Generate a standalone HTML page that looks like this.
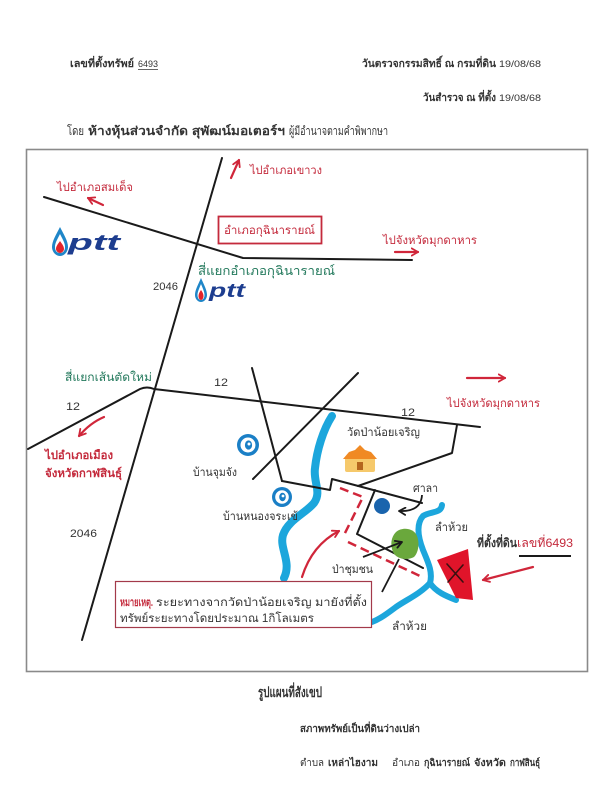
<!DOCTYPE html>
<html><head><meta charset="utf-8">
<style>
html,body{margin:0;padding:0;background:#fff;}
svg{display:block;}
text{font-family:"Liberation Sans","DejaVu Sans",sans-serif;}
</style></head><body>
<svg width="604" height="800" viewBox="0 0 604 800" xmlns="http://www.w3.org/2000/svg">
<defs>
<marker id="rh" viewBox="0 0 10 10" refX="8" refY="5" markerWidth="9" markerHeight="9" markerUnits="userSpaceOnUse" orient="auto">
<path d="M1,1 L8,5 L1,9" fill="none" stroke="#d0263a" stroke-width="2" stroke-linecap="round" stroke-linejoin="round"/>
</marker>
<marker id="bh" viewBox="0 0 10 10" refX="8" refY="5" markerWidth="9" markerHeight="9" markerUnits="userSpaceOnUse" orient="auto">
<path d="M1,1 L8,5 L1,9" fill="none" stroke="#1a1a1a" stroke-width="2" stroke-linecap="round" stroke-linejoin="round"/>
</marker>
</defs>

<!-- Header -->
<text x="70" y="67" font-size="10.5" font-weight="bold" fill="#333" textLength="64" lengthAdjust="spacingAndGlyphs">เลขที่ตั้งทรัพย์</text>
<text x="138" y="67" font-size="9.5" fill="#333" textLength="20" lengthAdjust="spacingAndGlyphs">6493</text>
<line x1="138" y1="69.5" x2="158" y2="69.5" stroke="#333" stroke-width="0.8"/>
<text x="362" y="67" font-size="10.5" font-weight="bold" fill="#333" textLength="134" lengthAdjust="spacingAndGlyphs">วันตรวจกรรมสิทธิ์ ณ กรมที่ดิน</text>
<text x="499" y="67" font-size="9.5" fill="#333" textLength="42" lengthAdjust="spacingAndGlyphs">19/08/68</text>
<text x="423" y="101" font-size="10.5" font-weight="bold" fill="#333" textLength="73" lengthAdjust="spacingAndGlyphs">วันสำรวจ ณ ที่ตั้ง</text>
<text x="499" y="101" font-size="9.5" fill="#333" textLength="42" lengthAdjust="spacingAndGlyphs">19/08/68</text>
<text x="67" y="135" font-size="12" fill="#333" textLength="17" lengthAdjust="spacingAndGlyphs">โดย</text>
<text x="88" y="135" font-size="12" font-weight="bold" fill="#333" textLength="197" lengthAdjust="spacingAndGlyphs">ห้างหุ้นส่วนจำกัด สุพัฒน์มอเตอร์ฯ</text>
<text x="289" y="135" font-size="12" fill="#333" textLength="99" lengthAdjust="spacingAndGlyphs">ผู้มีอำนาจตามคำพิพากษา</text>

<!-- Frame -->
<rect x="26.5" y="149.5" width="561" height="522" fill="none" stroke="#8a8a8a" stroke-width="1.6"/>

<!-- Rivers -->
<g fill="none" stroke="#1ca6dc" stroke-linecap="round" stroke-linejoin="round">
<path d="M332,416 C323,430 317,450 315,468 C313,482 322,492 314,503 C306,513 288,520 283,535 C279,548 292,562 284,578" stroke-width="8"/>
<path d="M442,505 C441,514 430,511 423,516 C416,524 418,537 423,550 C428,562 433,572 430,583 C436,592 446,596 456,600" stroke-width="6"/>
<path d="M430,583 C420,594 406,600 396,607 C388,613 380,619 372,622" stroke-width="6"/>
</g>

<!-- Roads -->
<g fill="none" stroke="#1a1a1a" stroke-width="2" stroke-linecap="round" stroke-linejoin="round">
<line x1="222" y1="158" x2="82" y2="640"/>
<polyline points="44,197 243,258 412,260"/>
<path d="M28,449 L140,389 Q147,386 154,389 L480,427"/>
<line x1="252" y1="368" x2="282" y2="481"/>
<line x1="358" y1="373" x2="253" y2="479"/>
<polyline points="282,481 330,490 332,479 422,503"/>
<polyline points="358,486 452,453 457,425"/>
<polyline points="375,490 357,534 423,568"/>
</g>

<!-- Red dashed route -->
<g fill="none" stroke="#d0263a" stroke-width="2.5" stroke-dasharray="9 5">
<polyline points="340,488 363,497 343,537"/>
<line x1="348" y1="542" x2="422" y2="577"/>
</g>

<!-- Green community forest -->
<path d="M396,532 C402,527 412,528 416,534 C420,541 419,552 414,557 C407,561 396,559 393,552 C390,545 391,537 396,532 Z" fill="#6aa83c"/>

<!-- Land plot -->
<polygon points="437,560 468,549 473,600 456,598" fill="#e0142a"/>
<g stroke="#3a1010" stroke-width="1.6" stroke-linecap="round">
<line x1="447" y1="564" x2="463" y2="582"/>
<line x1="463" y1="565" x2="448" y2="582"/>
</g>

<!-- Blue dot (sala) -->
<circle cx="382" cy="506" r="8" fill="#1a64ad"/>

<!-- Black arrows -->
<path d="M422,495 Q421,512 399,511" fill="none" stroke="#1a1a1a" stroke-width="1.8" marker-end="url(#bh)"/>
<line x1="363" y1="557" x2="402" y2="542" stroke="#1a1a1a" stroke-width="1.8" marker-end="url(#bh)"/>
<line x1="382" y1="592" x2="399" y2="559" stroke="#1a1a1a" stroke-width="1.8"/>

<!-- Red arrows -->
<g fill="none" stroke="#d0263a" stroke-width="2.2" stroke-linecap="round">
<line x1="231" y1="178" x2="239" y2="160" marker-end="url(#rh)"/>
<line x1="103" y1="205" x2="88" y2="198" marker-end="url(#rh)"/>
<line x1="395" y1="252" x2="418" y2="252" marker-end="url(#rh)"/>
<line x1="467" y1="378" x2="505" y2="378" marker-end="url(#rh)"/>
<path d="M104,417 Q90,423 79,436" marker-end="url(#rh)"/>
<path d="M533,567 Q506,574 483,580" marker-end="url(#rh)"/>
<path d="M302,577 Q312,545 339,531" marker-end="url(#rh)"/>
</g>

<!-- Village markers -->
<g>
<circle cx="248" cy="445" r="11" fill="#1a7fc6"/>
<circle cx="248" cy="445" r="7.5" fill="#fff"/>
<ellipse cx="248.5" cy="445" rx="3.6" ry="4.6" fill="#1a7fc6"/>
<circle cx="249" cy="444" r="1.5" fill="#fff"/>
<circle cx="282" cy="497" r="10" fill="#1a7fc6"/>
<circle cx="282" cy="497" r="6.8" fill="#fff"/>
<ellipse cx="282.5" cy="497" rx="3.3" ry="4.2" fill="#1a7fc6"/>
<circle cx="283" cy="496" r="1.4" fill="#fff"/>
</g>

<!-- Temple -->
<g>
<rect x="345" y="456" width="30" height="16" rx="2" fill="#f6c96b"/>
<path d="M343,459 L349,452 L355,450 L360,445 L365,450 L371,452 L377,459 Z" fill="#f08a24"/>
<rect x="357" y="462" width="6" height="8" fill="#b5651d"/>
</g>

<!-- PTT logos -->
<g>
<path d="M60,227 C56,235 52,241 52,247 C52,252 56,256 60,256 C64,256 68,252 68,247 C68,241 64,235 60,227 Z" fill="#1f86c8"/>
<path d="M60,234 C57,240 55,243 55,247 C55,251 57,253 60,253 C63,253 65,251 65,247 C65,243 63,240 60,234 Z" fill="#fff"/>
<path d="M60,241 C58,244 56,246 56,249 C56,251 58,253 60,253 C62,253 64,251 64,249 C64,246 62,244 60,241 Z" fill="#e3242b"/>
<text x="68" y="250" font-size="22" font-weight="bold" font-style="italic" fill="#1d3d8f" textLength="52" lengthAdjust="spacingAndGlyphs">ptt</text>
<path d="M201,278 C198,285 195,290 195,295 C195,299 198,302 201,302 C204,302 207,299 207,295 C207,290 204,285 201,278 Z" fill="#1f86c8"/>
<path d="M201,284 C199,289 197.5,292 197.5,295 C197.5,298 199,300 201,300 C203,300 204.5,298 204.5,295 C204.5,292 203,289 201,284 Z" fill="#fff"/>
<path d="M201,290 C199.5,292 198.5,294 198.5,296 C198.5,298 199.5,300 201,300 C202.5,300 203.5,298 203.5,296 C203.5,294 202.5,292 201,290 Z" fill="#e3242b"/>
<text x="209" y="297" font-size="19" font-weight="bold" font-style="italic" fill="#1d3d8f" textLength="36" lengthAdjust="spacingAndGlyphs">ptt</text>
</g>

<!-- Red box -->
<rect x="218.5" y="216.5" width="103" height="27" fill="#fff" stroke="#c42a3c" stroke-width="1.8"/>

<!-- Map labels -->
<g font-size="11.5">
<text x="250" y="174" fill="#c42a3c" textLength="72" lengthAdjust="spacingAndGlyphs">ไปอำเภอเขาวง</text>
<text x="57" y="191" fill="#c42a3c" textLength="76" lengthAdjust="spacingAndGlyphs">ไปอำเภอสมเด็จ</text>
<text x="224" y="234" fill="#c42a3c" textLength="91" lengthAdjust="spacingAndGlyphs">อำเภอกุฉินารายณ์</text>
<text x="383" y="244" fill="#c42a3c" textLength="94" lengthAdjust="spacingAndGlyphs">ไปจังหวัดมุกดาหาร</text>
<text x="198" y="275" fill="#23795c" font-size="12.5" textLength="137" lengthAdjust="spacingAndGlyphs">สี่แยกอำเภอกุฉินารายณ์</text>
<text x="153" y="290" fill="#333" font-size="11" textLength="25" lengthAdjust="spacingAndGlyphs">2046</text>
<text x="65" y="381" fill="#23795c" textLength="87" lengthAdjust="spacingAndGlyphs">สี่แยกเส้นตัดใหม่</text>
<text x="214" y="386" fill="#333" font-size="11" textLength="14" lengthAdjust="spacingAndGlyphs">12</text>
<text x="66" y="410" fill="#333" font-size="11" textLength="14" lengthAdjust="spacingAndGlyphs">12</text>
<text x="401" y="416" fill="#333" font-size="11" textLength="14" lengthAdjust="spacingAndGlyphs">12</text>
<text x="447" y="407" fill="#c42a3c" textLength="93" lengthAdjust="spacingAndGlyphs">ไปจังหวัดมุกดาหาร</text>
<text x="347" y="436" fill="#333" textLength="73" lengthAdjust="spacingAndGlyphs">วัดป่าน้อยเจริญ</text>
<text x="45" y="459" fill="#c42a3c" font-weight="bold" textLength="68" lengthAdjust="spacingAndGlyphs">ไปอำเภอเมือง</text>
<text x="45" y="477" fill="#c42a3c" font-weight="bold" textLength="77" lengthAdjust="spacingAndGlyphs">จังหวัดกาฬสินธุ์</text>
<text x="193" y="476" fill="#333" textLength="44" lengthAdjust="spacingAndGlyphs">บ้านจุมจัง</text>
<text x="223" y="520" fill="#333" textLength="75" lengthAdjust="spacingAndGlyphs">บ้านหนองจระเข้</text>
<text x="413" y="492" fill="#333" textLength="25" lengthAdjust="spacingAndGlyphs">ศาลา</text>
<text x="435" y="531" fill="#333" textLength="33" lengthAdjust="spacingAndGlyphs">ลำห้วย</text>
<text x="477" y="547" fill="#333" font-weight="bold" font-size="12" textLength="40" lengthAdjust="spacingAndGlyphs">ที่ตั้งที่ดิน</text>
<text x="517" y="547" fill="#c42a3c" font-size="12" textLength="56" lengthAdjust="spacingAndGlyphs">เลขที่6493</text>
<text x="332" y="573" fill="#333" textLength="41" lengthAdjust="spacingAndGlyphs">ป่าชุมชน</text>
<text x="70" y="537" fill="#333" font-size="11" textLength="27" lengthAdjust="spacingAndGlyphs">2046</text>
<text x="392" y="630" fill="#333" textLength="35" lengthAdjust="spacingAndGlyphs">ลำห้วย</text>
</g>
<line x1="519" y1="556" x2="571" y2="556" stroke="#1a1a1a" stroke-width="2"/>

<!-- Note box -->
<rect x="115.5" y="581.5" width="256" height="46" fill="#fff" stroke="#a33a4a" stroke-width="1.2"/>
<text x="120" y="606" font-size="11.5" font-weight="bold" fill="#c42a3c" textLength="33" lengthAdjust="spacingAndGlyphs">หมายเหตุ.</text>
<text x="156" y="606" font-size="11.5" fill="#333" textLength="211" lengthAdjust="spacingAndGlyphs">ระยะทางจากวัดป่าน้อยเจริญ มายังที่ตั้ง</text>
<text x="120" y="622" font-size="11.5" fill="#333" textLength="194" lengthAdjust="spacingAndGlyphs">ทรัพย์ระยะทางโดยประมาณ 1กิโลเมตร</text>

<!-- Footer -->
<text x="258" y="697" font-size="14" font-weight="bold" fill="#333" textLength="64" lengthAdjust="spacingAndGlyphs">รูปแผนที่สังเขป</text>
<text x="300" y="732" font-size="10" font-weight="bold" fill="#333" textLength="120" lengthAdjust="spacingAndGlyphs">สภาพทรัพย์เป็นที่ดินว่างเปล่า</text>
<text x="300" y="766" font-size="10" fill="#333" textLength="24" lengthAdjust="spacingAndGlyphs">ตำบล</text>
<text x="328" y="766" font-size="10" font-weight="bold" fill="#333" textLength="50" lengthAdjust="spacingAndGlyphs">เหล่าไฮงาม</text>
<text x="392" y="766" font-size="10" fill="#333" textLength="28" lengthAdjust="spacingAndGlyphs">อำเภอ</text>
<text x="424" y="766" font-size="10" font-weight="bold" fill="#333" textLength="46" lengthAdjust="spacingAndGlyphs">กุฉินารายณ์</text>
<text x="474" y="766" font-size="10" font-weight="bold" fill="#333" textLength="32" lengthAdjust="spacingAndGlyphs">จังหวัด</text>
<text x="510" y="766" font-size="10" font-weight="bold" fill="#333" textLength="30" lengthAdjust="spacingAndGlyphs">กาฬสินธุ์</text>
</svg>
</body></html>
